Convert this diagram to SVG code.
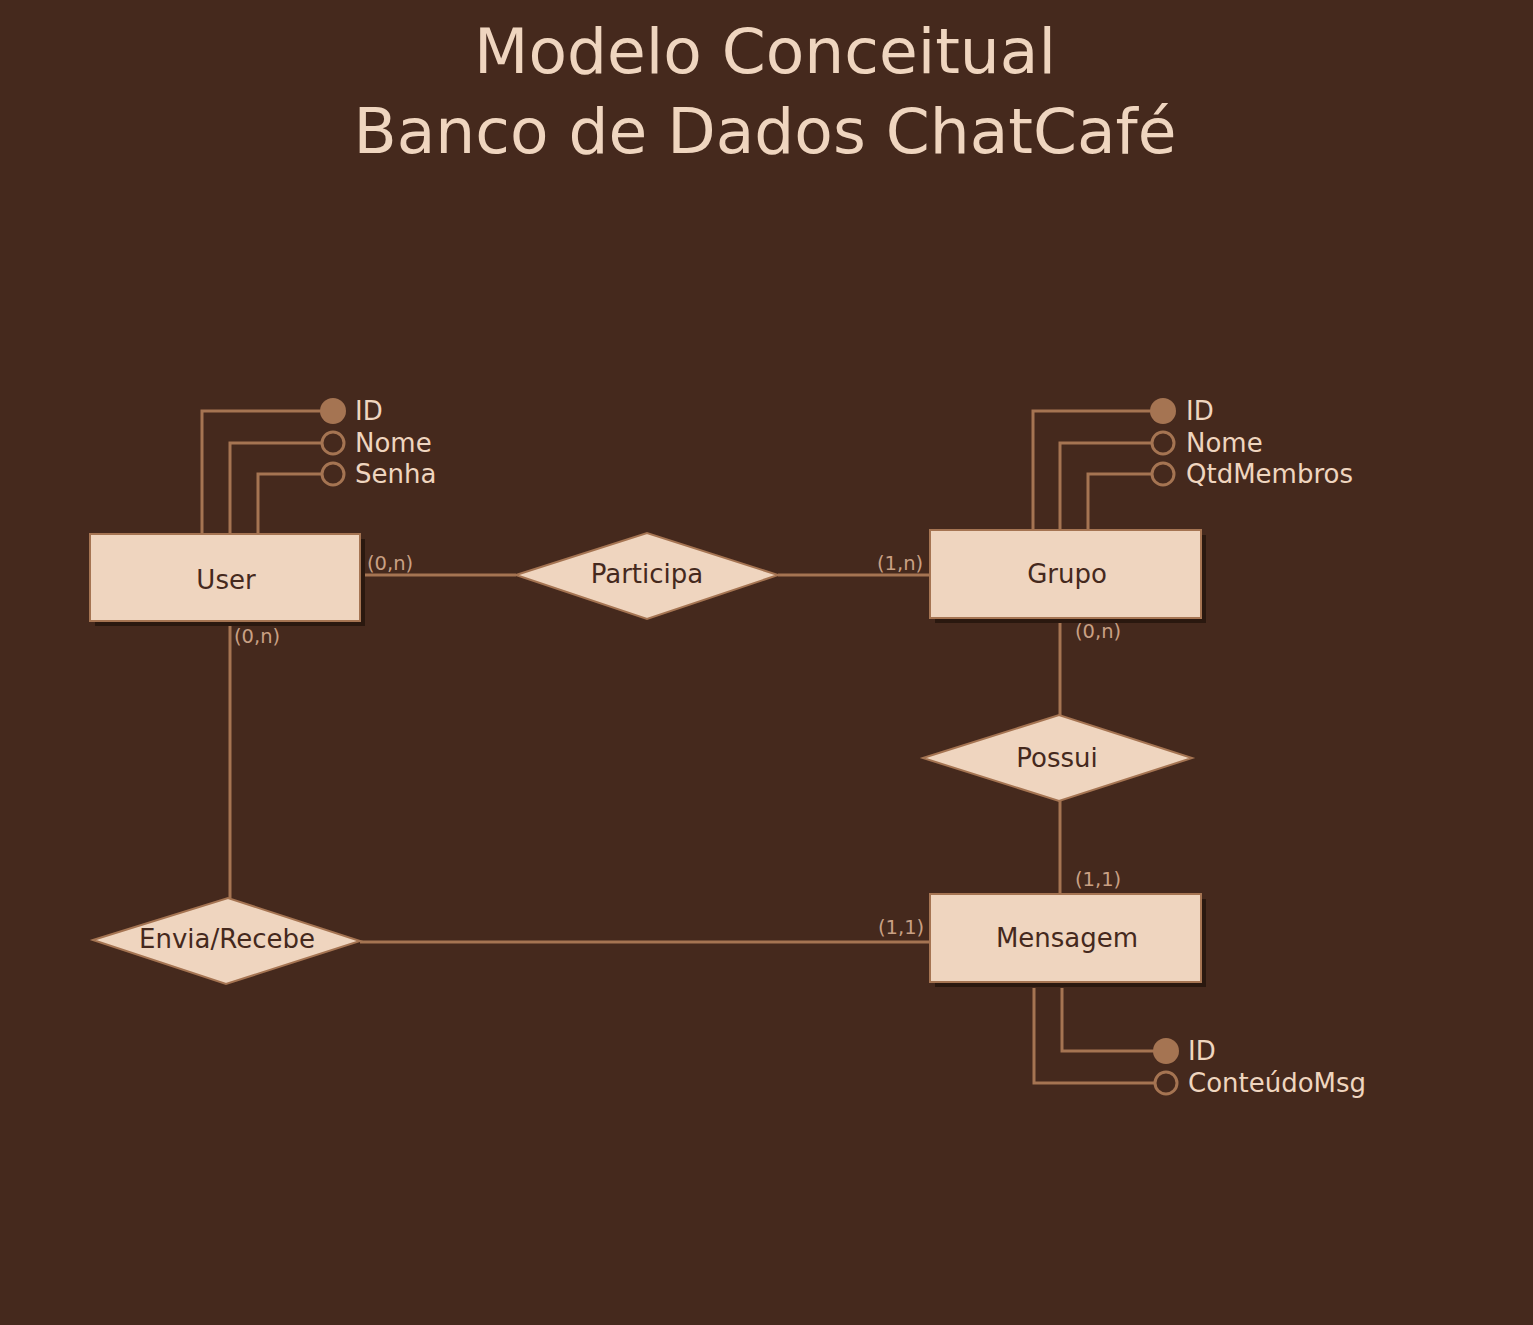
<svg xmlns="http://www.w3.org/2000/svg" width="1533" height="1325" viewBox="0 0 1533 1325">
<style>
text{font-family:"DejaVu Sans","Liberation Sans",sans-serif}
.title{font-size:63px;fill:#efd5bf;text-anchor:middle}
.ent{fill:#efd5bf;stroke:#a57452;stroke-width:2}
.sh{fill:#2a180f}
.lbl{font-size:26px;fill:#45291d;text-anchor:middle;dominant-baseline:central}
.attr{font-size:26px;fill:#efd5bf}
.card{font-size:19.5px;fill:#c9a084}
.ln{fill:none;stroke:#a57452;stroke-width:3}
.pk{fill:#a57452}
.ak{fill:none;stroke:#a57452;stroke-width:3}
</style>
<rect width="1533" height="1325" fill="#45291d"/>
<text class="title" x="765" y="73">Modelo Conceitual</text>
<text class="title" x="765" y="153">Banco de Dados ChatCafé</text>

<g id="connectors">
<path class="ln" d="M365 575H516"/>
<path class="ln" d="M778 575H930"/>
<path class="ln" d="M230 626V898"/>
<path class="ln" d="M1060 623V715"/>
<path class="ln" d="M1060 801V894"/>
<path class="ln" d="M360 942H930"/>
<text class="card" x="367" y="570">(0,n)</text>
<text class="card" x="877" y="570">(1,n)</text>
<text class="card" x="234" y="643">(0,n)</text>
<text class="card" x="1075" y="638">(0,n)</text>
<text class="card" x="1075" y="886">(1,1)</text>
<text class="card" x="878" y="934">(1,1)</text>
</g>

<g id="user">
<path class="ln" d="M202 534V411H322M230 534V443H322M258 534V474H322"/>
<circle class="pk" cx="333" cy="411" r="13"/>
<circle class="ak" cx="333" cy="443" r="11"/>
<circle class="ak" cx="333" cy="474" r="11"/>
<text class="attr" x="355" y="420">ID</text>
<text class="attr" x="355" y="452">Nome</text>
<text class="attr" x="355" y="483">Senha</text>
<rect class="sh" x="95" y="539" width="270" height="87"/>
<rect class="ent" x="90" y="534" width="270" height="87"/>
<text class="lbl" x="226" y="580">User</text>
</g>

<g id="grupo">
<path class="ln" d="M1033 530V411H1152M1060 530V443H1152M1088 530V474H1152"/>
<circle class="pk" cx="1163" cy="411" r="13"/>
<circle class="ak" cx="1163" cy="443" r="11"/>
<circle class="ak" cx="1163" cy="474" r="11"/>
<text class="attr" x="1186" y="420">ID</text>
<text class="attr" x="1186" y="452">Nome</text>
<text class="attr" x="1186" y="483">QtdMembros</text>
<rect class="sh" x="935" y="535" width="271" height="88"/>
<rect class="ent" x="930" y="530" width="271" height="88"/>
<text class="lbl" x="1067" y="574">Grupo</text>
</g>

<g id="mensagem">
<path class="ln" d="M1062 988V1051H1155M1034 988V1083H1155"/>
<circle class="pk" cx="1166" cy="1051" r="13"/>
<circle class="ak" cx="1166" cy="1083" r="11"/>
<text class="attr" x="1188" y="1060">ID</text>
<text class="attr" x="1188" y="1092">ConteúdoMsg</text>
<rect class="sh" x="935" y="899" width="271" height="88"/>
<rect class="ent" x="930" y="894" width="271" height="88"/>
<text class="lbl" x="1067" y="938">Mensagem</text>
</g>

<g id="participa">
<polygon class="ent" points="516,575 647,533 778,575 647,619"/>
<text class="lbl" x="647" y="574">Participa</text>
</g>

<g id="possui">
<polygon class="ent" points="923,758 1059,715 1192,758 1059,801"/>
<text class="lbl" x="1057" y="758">Possui</text>
</g>

<g id="envia">
<polygon class="ent" points="93,940 228,898 360,941 226,984"/>
<text class="lbl" x="227" y="939">Envia/Recebe</text>
</g>
</svg>
